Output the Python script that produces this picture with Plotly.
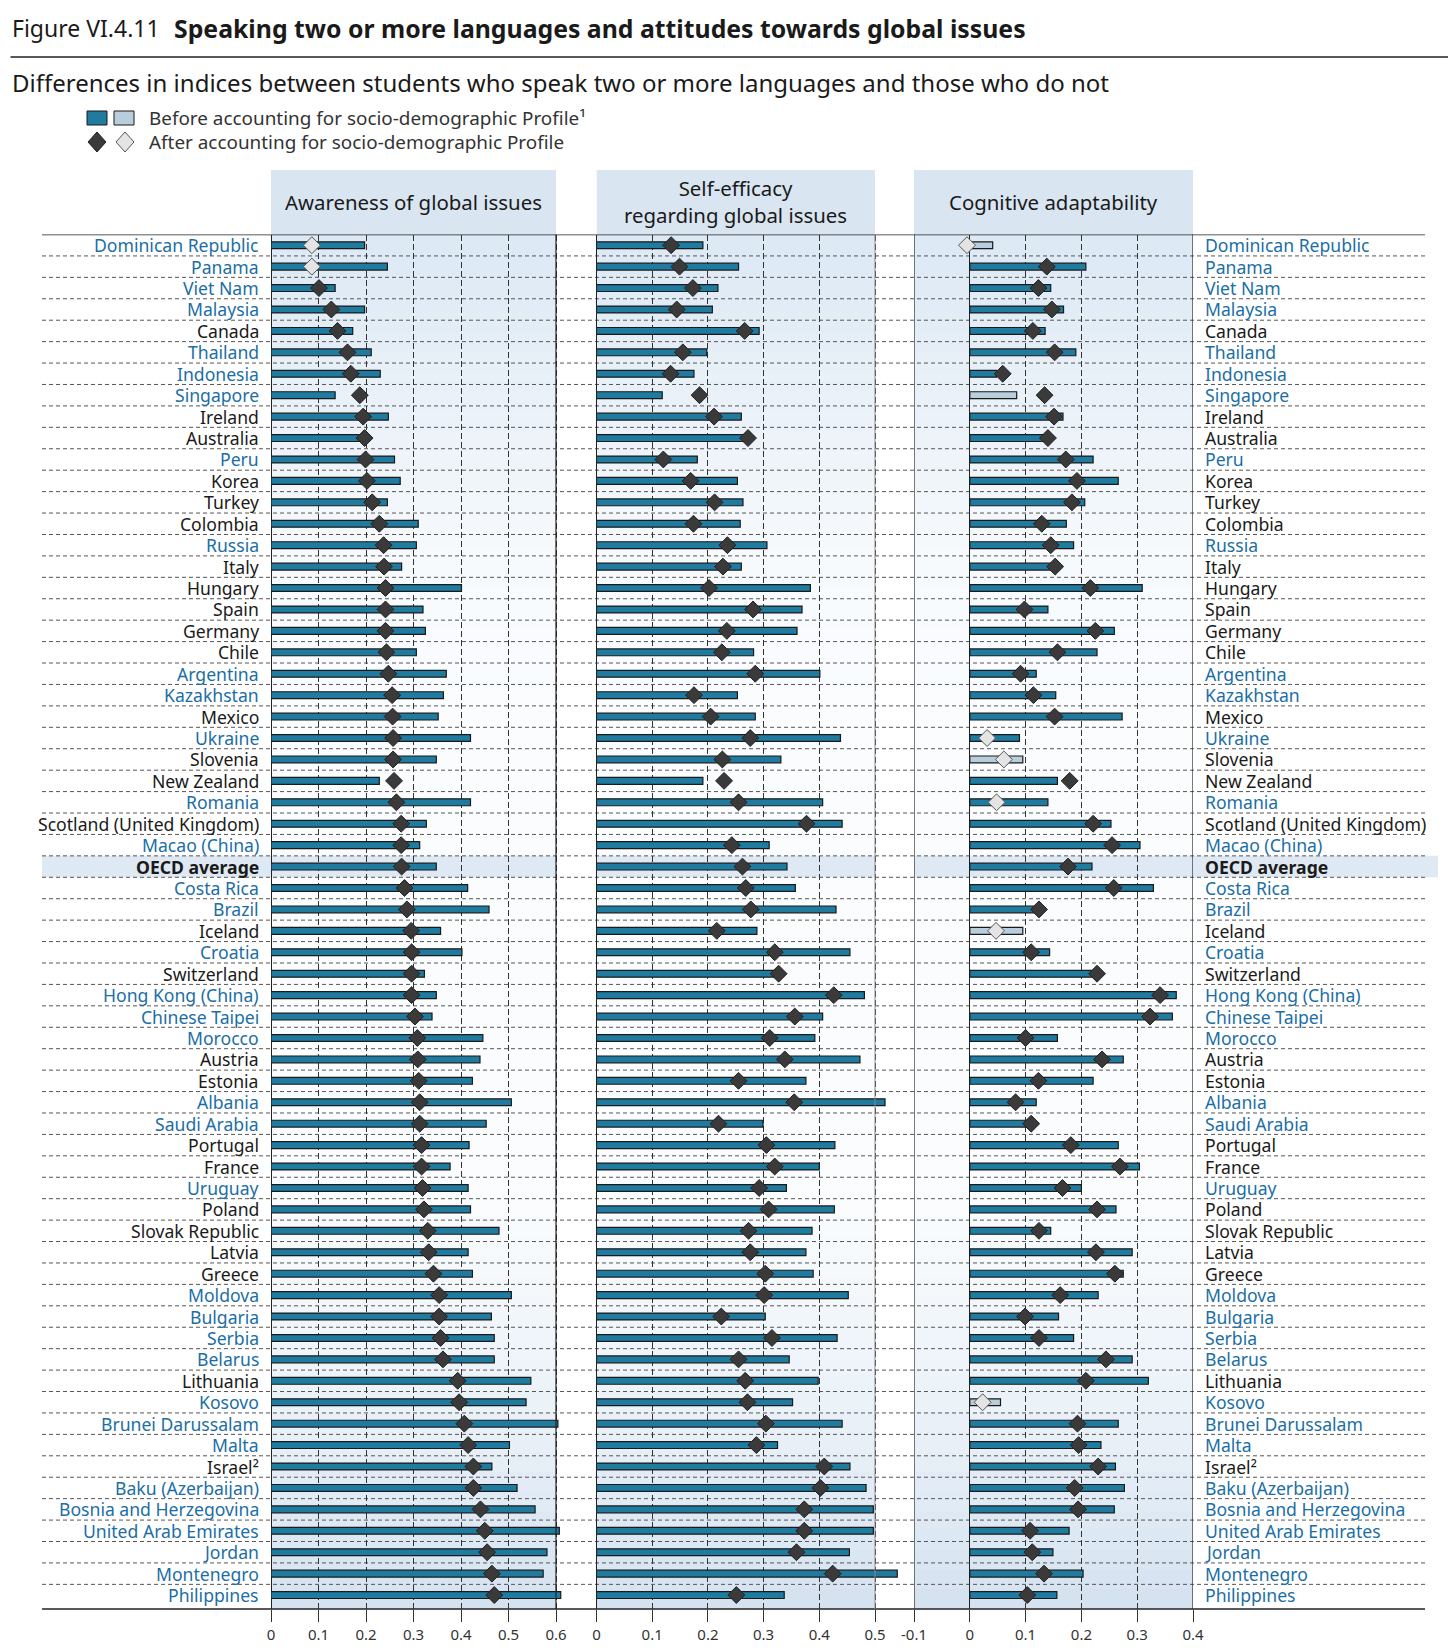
import plotly.graph_objects as go

W, H = 1451, 1651

countries = ["Dominican Republic", "Panama", "Viet Nam", "Malaysia", "Canada", "Thailand", "Indonesia",
             "Singapore", "Ireland", "Australia", "Peru", "Korea", "Turkey", "Colombia", "Russia", "Italy",
             "Hungary", "Spain", "Germany", "Chile", "Argentina", "Kazakhstan", "Mexico", "Ukraine",
             "Slovenia", "New Zealand", "Romania", "Scotland (United Kingdom)", "Macao (China)",
             "OECD average", "Costa Rica", "Brazil", "Iceland", "Croatia", "Switzerland",
             "Hong Kong (China)", "Chinese Taipei", "Morocco", "Austria", "Estonia", "Albania",
             "Saudi Arabia", "Portugal", "France", "Uruguay", "Poland", "Slovak Republic", "Latvia",
             "Greece", "Moldova", "Bulgaria", "Serbia", "Belarus", "Lithuania", "Kosovo",
             "Brunei Darussalam", "Malta", "Israel²", "Baku (Azerbaijan)", "Bosnia and Herzegovina",
             "United Arab Emirates", "Jordan", "Montenegro", "Philippines"]

partners = ["Dominican Republic", "Panama", "Viet Nam", "Malaysia", "Thailand", "Indonesia", "Singapore",
            "Peru", "Russia", "Argentina", "Kazakhstan", "Ukraine", "Romania", "Macao (China)",
            "Costa Rica", "Brazil", "Croatia", "Hong Kong (China)", "Chinese Taipei", "Morocco",
            "Albania", "Saudi Arabia", "Uruguay", "Moldova", "Bulgaria", "Serbia", "Belarus", "Kosovo",
            "Brunei Darussalam", "Malta", "Baku (Azerbaijan)", "Bosnia and Herzegovina",
            "United Arab Emirates", "Jordan", "Montenegro", "Philippines"]

aware_before = [0.197, 0.245, 0.135, 0.197, 0.172, 0.211, 0.230, 0.135, 0.247, 0.195, 0.260, 0.272, 0.245,
                0.310, 0.306, 0.275, 0.401, 0.320, 0.325, 0.306, 0.369, 0.363, 0.352, 0.420, 0.348, 0.228,
                0.420, 0.327, 0.313, 0.348, 0.414, 0.459, 0.357, 0.402, 0.323, 0.348, 0.339, 0.446, 0.440,
                0.424, 0.506, 0.453, 0.417, 0.377, 0.415, 0.420, 0.480, 0.415, 0.424, 0.506, 0.464, 0.470,
                0.470, 0.547, 0.537, 0.604, 0.502, 0.465, 0.518, 0.556, 0.607, 0.581, 0.573, 0.610]
aware_after = [0.086, 0.086, 0.101, 0.127, 0.140, 0.161, 0.168, 0.187, 0.194, 0.197, 0.199, 0.202, 0.213,
               0.228, 0.237, 0.238, 0.241, 0.241, 0.241, 0.243, 0.247, 0.255, 0.256, 0.257, 0.257, 0.259,
               0.264, 0.274, 0.274, 0.275, 0.281, 0.286, 0.295, 0.296, 0.296, 0.296, 0.303, 0.308, 0.309,
               0.311, 0.313, 0.313, 0.317, 0.317, 0.319, 0.322, 0.330, 0.332, 0.342, 0.354, 0.354, 0.357,
               0.362, 0.393, 0.396, 0.407, 0.415, 0.426, 0.426, 0.441, 0.450, 0.455, 0.465, 0.470]

selfeff_before = [0.191, 0.255, 0.218, 0.208, 0.292, 0.198, 0.175, 0.118, 0.260, 0.266, 0.181, 0.253, 0.263,
                  0.258, 0.306, 0.260, 0.384, 0.369, 0.360, 0.282, 0.401, 0.253, 0.285, 0.438, 0.331, 0.191,
                  0.406, 0.441, 0.310, 0.342, 0.357, 0.430, 0.288, 0.455, 0.325, 0.481, 0.406, 0.392, 0.473,
                  0.376, 0.518, 0.299, 0.428, 0.400, 0.341, 0.427, 0.387, 0.376, 0.389, 0.452, 0.303, 0.432,
                  0.346, 0.398, 0.352, 0.441, 0.325, 0.455, 0.484, 0.497, 0.497, 0.454, 0.540, 0.337]
selfeff_after = [0.134, 0.149, 0.173, 0.144, 0.266, 0.155, 0.133, 0.185, 0.211, 0.272, 0.120, 0.169, 0.212,
                 0.174, 0.235, 0.227, 0.202, 0.281, 0.234, 0.225, 0.285, 0.175, 0.205, 0.276, 0.226, 0.229,
                 0.255, 0.377, 0.243, 0.262, 0.268, 0.277, 0.216, 0.320, 0.327, 0.426, 0.356, 0.311, 0.338,
                 0.255, 0.355, 0.219, 0.305, 0.320, 0.292, 0.309, 0.273, 0.276, 0.303, 0.301, 0.224, 0.315,
                 0.255, 0.267, 0.271, 0.304, 0.287, 0.409, 0.402, 0.373, 0.373, 0.359, 0.424, 0.251]

cog_before = [0.041, 0.208, 0.145, 0.168, 0.135, 0.190, 0.048, 0.084, 0.167, 0.133, 0.221, 0.266, 0.206,
              0.173, 0.186, 0.149, 0.309, 0.140, 0.259, 0.228, 0.119, 0.154, 0.273, 0.089, 0.095, 0.157,
              0.140, 0.253, 0.305, 0.219, 0.329, 0.122, 0.095, 0.143, 0.219, 0.370, 0.363, 0.157, 0.275,
              0.221, 0.119, 0.106, 0.266, 0.304, 0.200, 0.262, 0.145, 0.291, 0.275, 0.230, 0.159, 0.186,
              0.291, 0.320, 0.055, 0.266, 0.235, 0.261, 0.277, 0.259, 0.178, 0.149, 0.203, 0.156]
cog_after = [-0.005, 0.138, 0.123, 0.147, 0.113, 0.152, 0.059, 0.134, 0.151, 0.140, 0.172, 0.192, 0.183,
             0.129, 0.145, 0.153, 0.216, 0.098, 0.225, 0.157, 0.091, 0.114, 0.152, 0.031, 0.061, 0.179,
             0.048, 0.221, 0.255, 0.176, 0.258, 0.124, 0.047, 0.110, 0.228, 0.341, 0.323, 0.100, 0.237,
             0.123, 0.082, 0.110, 0.181, 0.269, 0.166, 0.228, 0.124, 0.226, 0.260, 0.162, 0.099, 0.124,
             0.244, 0.208, 0.023, 0.193, 0.195, 0.230, 0.188, 0.194, 0.108, 0.112, 0.133, 0.103]

# not statistically significant (light markers)
aware_before_ns = []
aware_after_ns = ["Dominican Republic", "Panama"]
selfeff_before_ns = []
selfeff_after_ns = []
cog_before_ns = ["Dominican Republic", "Singapore", "Slovenia", "Iceland", "Kosovo"]
cog_after_ns = ["Dominican Republic", "Ukraine", "Slovenia", "Romania", "Iceland", "Kosovo"]

panel_titles = ["Awareness of global issues", "Self-efficacy<br>regarding global issues",
                "Cognitive adaptability"]
ticks1 = [0, 0.1, 0.2, 0.3, 0.4, 0.5, 0.6]
ticks2 = [0, 0.1, 0.2, 0.3, 0.4, 0.5]
ticks3 = [-0.1, 0, 0.1, 0.2, 0.3, 0.4]

for arr in [aware_before, aware_after, selfeff_before, selfeff_after, cog_before, cog_after]:
    assert len(arr) == len(countries)

FONT = "Noto Sans"
BAR_DARK = "#1f7ba0"
BAR_LIGHT = "#b9cedc"
DIA_DARK = "#3a3a3a"
DIA_LIGHT = "#e4e4e4"
BLUE = "#1b6ea5"
INK = "#1a1a1a"


def px(x):
    return x / W


def py(y):
    return 1 - y / H


fig = go.Figure()

panels = [
    ("x", aware_before, aware_after, aware_before_ns, aware_after_ns),
    ("x2", selfeff_before, selfeff_after, selfeff_before_ns, selfeff_after_ns),
    ("x3", cog_before, cog_after, cog_before_ns, cog_after_ns),
]
for xa, before, after, bns, ans in panels:
    fig.add_trace(go.Bar(
        x=before, y=countries, orientation="h", xaxis=xa, yaxis="y", width=0.32,
        marker=dict(color=[BAR_LIGHT if c in bns else BAR_DARK for c in countries],
                    line=dict(color="#1a1a1a", width=1.2)),
        showlegend=False, hoverinfo="x+y"))
    fig.add_trace(go.Scatter(
        x=after, y=countries, mode="markers", xaxis=xa, yaxis="y",
        marker=dict(symbol="diamond", size=13,
                    color=[DIA_LIGHT if c in ans else DIA_DARK for c in countries],
                    line=dict(color=["#555555" if c in ans else "#222222" for c in countries], width=1)),
        showlegend=False, hoverinfo="x+y"))

PLOT_TOP, PLOT_BOT = 234.5, 1609.0
HEAD_TOP = 170.0

axis_common = dict(showline=False, ticks="outside", ticklen=12, tickcolor="#333333", tickwidth=1,
                   showgrid=True, gridcolor="#333333", gridwidth=1, griddash="6px,3px",
                   zeroline=True, zerolinecolor="#222222", zerolinewidth=1.3,
                   tickfont=dict(family=FONT, size=15, color="#333333"), anchor="y",
                   fixedrange=True, automargin=False)


def fmt(v):
    return "0" if v == 0 else ("%g" % v)


fig.update_layout(
    width=W, height=H, margin=dict(l=0, r=0, t=0, b=0, pad=0, autoexpand=False),
    paper_bgcolor="white", plot_bgcolor="rgba(0,0,0,0)",
    font=dict(family=FONT, color=INK),
    barmode="overlay", showlegend=False,
    xaxis=dict(domain=[px(271), px(271 + 0.62 * 475)], range=[0, 0.62],
               tickvals=ticks1, ticktext=[fmt(v) for v in ticks1], **axis_common),
    xaxis2=dict(domain=[px(596.5), px(596.5 + 0.56 * 557)], range=[0, 0.56],
                tickvals=ticks2, ticktext=[fmt(v) for v in ticks2], **axis_common),
    xaxis3=dict(domain=[px(914), px(1193)], range=[-0.1, 0.4],
                tickvals=ticks3, ticktext=[fmt(v) for v in ticks3], **axis_common),
    yaxis=dict(domain=[py(PLOT_BOT), py(PLOT_TOP)], type="category", categoryarray=countries,
               range=[63.65, -0.5], showticklabels=False, showgrid=False, zeroline=False,
               showline=False, ticks="", anchor="x", fixedrange=True, automargin=False),
)

shapes = []
panel_spans = [("x", 0, 0.6), ("x2", 0, 0.5), ("x3", -0.1, 0.4)]

# gradient background of each panel (vertical)
stops = [(234.5, (220, 232, 244)), (400, (234, 241, 248)), (560, (247, 250, 253)), (700, (250, 252, 254)),
         (1200, (250, 252, 254)), (1300, (243, 247, 251)), (1450, (231, 239, 247)), (1609, (212, 226, 240))]


def grad(yp):
    for (y0, c0), (y1, c1) in zip(stops[:-1], stops[1:]):
        if y0 <= yp <= y1:
            t = (yp - y0) / (y1 - y0)
            c = [round(a + (b - a) * t) for a, b in zip(c0, c1)]
            return "rgb(%d,%d,%d)" % tuple(c)
    return "rgb(%d,%d,%d)" % stops[-1][1]


N = 70
step = (PLOT_BOT - PLOT_TOP) / N
for xa, lo, hi in panel_spans:
    shapes.append(dict(type="rect", xref=xa, yref="paper", x0=lo, x1=hi, y0=py(PLOT_TOP + 0.5),
                       y1=py(HEAD_TOP), fillcolor="rgb(217,229,241)", line=dict(width=0), layer="below"))
    for k in range(N):
        y0 = PLOT_TOP + k * step
        y1 = y0 + step + 0.8
        shapes.append(dict(type="rect", xref=xa, yref="paper", x0=lo, x1=hi, y0=py(min(y1, PLOT_BOT)),
                           y1=py(y0), fillcolor=grad(y0 + step / 2), line=dict(width=0), layer="below"))

# OECD average highlight band
oi = countries.index("OECD average")
for x0, x1 in [(42, 556.4), (596.5, 875), (914, 1438)]:
    shapes.append(dict(type="rect", xref="paper", yref="y", x0=px(x0), x1=px(x1), y0=oi - 0.5, y1=oi + 0.5,
                       fillcolor="rgb(223,233,244)", line=dict(width=0), layer="below"))

# dashed row separators
for i in range(len(countries) - 1):
    shapes.append(dict(type="line", xref="paper", yref="y", x0=px(42), x1=px(1425), y0=i + 0.5, y1=i + 0.5,
                       line=dict(color="#555555", width=1, dash="4px,3px"), layer="below"))

# top and bottom rules
shapes.append(dict(type="line", xref="paper", yref="y", x0=px(42), x1=px(1425), y0=-0.5, y1=-0.5,
                   line=dict(color="#222222", width=1.5), layer="above"))
shapes.append(dict(type="line", xref="paper", yref="y domain", x0=px(42), x1=px(1425), y0=0, y1=0,
                   line=dict(color="#222222", width=1.5), layer="above"))

# panel edges
edges = [("x", 0.6, "#222222", 1.2), ("x2", 0.5, "#8a8a8a", 1), ("x3", -0.1, "#222222", 1.2),
         ("x3", 0.4, "#222222", 1.2)]
for xa, v, col, w in edges:
    shapes.append(dict(type="line", xref=xa, yref="y domain", x0=v, x1=v, y0=0, y1=1,
                       line=dict(color=col, width=w), layer="above"))

# title rule
shapes.append(dict(type="line", xref="paper", yref="paper", x0=px(10.5), x1=px(1448), y0=py(57), y1=py(57),
                   line=dict(color="#222222", width=1.3)))

# legend glyphs
shapes.append(dict(type="rect", xref="paper", yref="paper", x0=px(87), x1=px(107), y0=py(125), y1=py(111),
                   fillcolor=BAR_DARK, line=dict(color="#1a1a1a", width=1)))
shapes.append(dict(type="rect", xref="paper", yref="paper", x0=px(114), x1=px(134), y0=py(125), y1=py(111),
                   fillcolor=BAR_LIGHT, line=dict(color="#1a1a1a", width=1)))


def diamond_path(cx, cy, hw, hh):
    pts = [(cx, cy - hh), (cx + hw, cy), (cx, cy + hh), (cx - hw, cy)]
    return "M " + " L ".join("%.5f %.5f" % (px(a), py(b)) for a, b in pts) + " Z"


shapes.append(dict(type="path", xref="paper", yref="paper", path=diamond_path(97, 142, 9, 10),
                   fillcolor=DIA_DARK, line=dict(color="#222222", width=1)))
shapes.append(dict(type="path", xref="paper", yref="paper", path=diamond_path(125, 142, 9, 10),
                   fillcolor=DIA_LIGHT, line=dict(color="#555555", width=1)))

fig.update_layout(shapes=shapes)

ann = []
ann.append(dict(xref="paper", yref="paper", x=px(10), y=py(28), xanchor="left", yanchor="middle",
                text="Figure VI.4.11", showarrow=False, font=dict(family=FONT, size=23, color=INK)))
ann.append(dict(xref="paper", yref="paper", x=px(172), y=py(28), xanchor="left", yanchor="middle",
                text="<b>Speaking two or more languages and attitudes towards global issues</b>",
                showarrow=False, font=dict(family=FONT, size=24.8, color=INK)))
ann.append(dict(xref="paper", yref="paper", x=px(10), y=py(83), xanchor="left", yanchor="middle",
                text="Differences in indices between students who speak two or more languages and those who do not",
                showarrow=False, font=dict(family=FONT, size=24, color=INK)))
ann.append(dict(xref="paper", yref="paper", x=px(147), y=py(118), xanchor="left", yanchor="middle",
                text="Before accounting for socio-demographic Profile¹", showarrow=False,
                font=dict(family=FONT, size=18.9, color="#333333")))
ann.append(dict(xref="paper", yref="paper", x=px(147), y=py(142), xanchor="left", yanchor="middle",
                text="After accounting for socio-demographic Profile", showarrow=False,
                font=dict(family=FONT, size=18.9, color="#333333")))

# panel headers
for (xa, lo, hi), title in zip(panel_spans, panel_titles):
    ann.append(dict(xref=xa, yref="paper", x=(lo + hi) / 2, y=py(202), xanchor="center", yanchor="middle",
                    text=title, showarrow=False, font=dict(family=FONT, size=20.4, color=INK),
                    align="center"))

# country labels
for c in countries:
    col = BLUE if c in partners else INK
    txt = "<b>%s</b>" % c if c == "OECD average" else c
    ann.append(dict(xref="paper", yref="y", x=px(260.5), y=c, xanchor="right", yanchor="middle",
                    text=txt, showarrow=False, font=dict(family=FONT, size=17.6, color=col)))
    ann.append(dict(xref="paper", yref="y", x=px(1203), y=c, xanchor="left", yanchor="middle",
                    text=txt, showarrow=False, font=dict(family=FONT, size=17.6, color=col)))

fig.update_layout(annotations=ann)

fig.write_html("out.html", config={"displayModeBar": False},
               post_script="document.body.style.margin='0px';document.documentElement.style.margin='0px';")
